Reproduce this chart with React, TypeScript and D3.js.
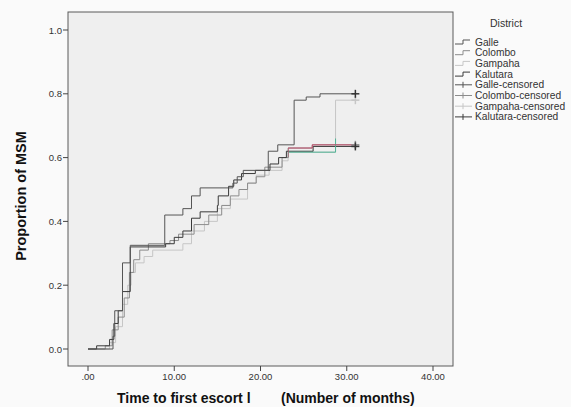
import React from 'react';
import * as d3 from 'd3';

// step data: [time in months, cumulative proportion]
const galle: [number, number][] = [
  [0, 0], [2.9, 0.04], [3.1, 0.12], [4.0, 0.27], [4.9, 0.325], [8.9, 0.42], [11.0, 0.44],
  [12.0, 0.48], [13.0, 0.505], [16.8, 0.52], [17.3, 0.54], [18.0, 0.56], [20.9, 0.62],
  [22.0, 0.64], [23.9, 0.78], [25.3, 0.79], [26.9, 0.8], [31.0, 0.8],
];
const colombo: [number, number][] = [
  [0, 0], [2.0, 0.01], [2.8, 0.06], [3.5, 0.1], [4.2, 0.16], [4.8, 0.24], [5.3, 0.28],
  [6.0, 0.31], [7.0, 0.33], [9.5, 0.34], [10.5, 0.36], [12.3, 0.39], [14.0, 0.42],
  [15.5, 0.45], [16.5, 0.48], [17.5, 0.5], [18.5, 0.52], [19.5, 0.54], [20.5, 0.57],
  [22.5, 0.6], [23.2, 0.63], [26.0, 0.64], [31.0, 0.64],
];
const gampaha: [number, number][] = [
  [0, 0], [2.5, 0.02], [3.2, 0.07], [4.0, 0.14], [4.6, 0.2], [5.0, 0.24], [5.5, 0.27],
  [6.5, 0.29], [7.5, 0.31], [11.0, 0.33], [12.0, 0.37], [13.5, 0.4], [15.0, 0.44],
  [16.5, 0.47], [18.5, 0.52], [19.5, 0.545], [21.0, 0.56], [22.5, 0.59], [23.2, 0.617],
  [28.7, 0.78], [31.0, 0.78],
];
const kalutara: [number, number][] = [
  [0, 0], [1.0, 0.01], [2.5, 0.03], [3.0, 0.08], [3.5, 0.12], [4.0, 0.18], [4.9, 0.32],
  [9.0, 0.33], [10.0, 0.35], [11.0, 0.37], [12.0, 0.41], [13.0, 0.43], [15.0, 0.45],
  [15.1, 0.48], [16.3, 0.51], [16.9, 0.53], [17.8, 0.55], [19.4, 0.56], [21.1, 0.58],
  [22.1, 0.6], [23.0, 0.62], [26.1, 0.635], [31.0, 0.635],
];

const legendLabels = [
  'Galle', 'Colombo', 'Gampaha', 'Kalutara',
  'Galle-censored', 'Colombo-censored', 'Gampaha-censored', 'Kalutara-censored',
];
const xTicks = [0, 10, 20, 30, 40];
const xTickLabels = ['.00', '10.00', '20.00', '30.00', '40.00'];
const yTicks = [0, 0.2, 0.4, 0.6, 0.8, 1.0];
const yTickLabels = ['0.0', '0.2', '0.4', '0.6', '0.8', '1.0'];

const series = [galle, colombo, gampaha, kalutara];
const colors = ['#555555', '#8c8c8c', '#c6c6c6', '#3a3a3a'];
const tailColors: (string | null)[] = [null, '#c2506c', '#52b596', null];
const tailStart = 23.2;
const tailRange = [0.6, 0.66];

const W = 571;
const H = 407;
const frame = { left: 68, right: 453, top: 12, bottom: 366 };
const font = '"Liberation Sans", Arial, sans-serif';

export default function App() {
  const x = d3.scaleLinear().domain([0, 40]).range([88, 433]);
  const y = d3.scaleLinear().domain([0, 1]).range([349, 30]);

  const line = d3
    .line<[number, number]>()
    .x((d) => x(d[0]))
    .y((d) => y(d[1]))
    .curve(d3.curveStepAfter);

  const drawOrder = [2, 1, 3, 0];
  const legendY = (i: number) => 42 + i * 10.7;

  return (
    <svg width={W} height={H} style={{ display: 'block', position: 'absolute', left: 0, top: 0 }}>
      <defs>
        <clipPath id="tail">
          <rect
            x={x(tailStart)}
            y={y(tailRange[1])}
            width={W}
            height={y(tailRange[0]) - y(tailRange[1])}
          />
        </clipPath>
      </defs>
      <rect width={W} height={H} fill="#fafafa" />
      <rect
        x={frame.left}
        y={frame.top}
        width={frame.right - frame.left}
        height={frame.bottom - frame.top}
        fill="#efefef"
        stroke="#5a5a5a"
        strokeWidth={1}
      />

      {/* y axis */}
      {yTicks.map((t, i) => (
        <g key={'y' + t}>
          <line x1={frame.left - 5} x2={frame.left} y1={y(t)} y2={y(t)} stroke="#444" />
          <text x={frame.left - 6} y={y(t) + 3.5} textAnchor="end" fontSize={9.5} fontFamily={font} fill="#333">
            {yTickLabels[i]}
          </text>
        </g>
      ))}
      {/* x axis */}
      {xTicks.map((t, i) => (
        <g key={'x' + t}>
          <line x1={x(t)} x2={x(t)} y1={frame.bottom} y2={frame.bottom + 5} stroke="#444" />
          <text x={x(t)} y={frame.bottom + 14} textAnchor="middle" fontSize={9.5} fontFamily={font} fill="#333">
            {xTickLabels[i]}
          </text>
        </g>
      ))}

      <text
        transform={`translate(26,196) rotate(-90)`}
        textAnchor="middle"
        fontSize={14.5}
        fontWeight="bold"
        fontFamily={font}
        fill="#111"
      >
        Proportion of MSM
      </text>
      <text x={117} y={403} fontSize={14} fontWeight="bold" fontFamily={font} fill="#111">
        Time to first escort l
      </text>
      <text x={281} y={403} fontSize={14} fontWeight="bold" fontFamily={font} fill="#111">
        (Number of months)
      </text>

      {/* curves */}
      {drawOrder.map((i) => (
        <path key={'c' + i} d={line(series[i]) || ''} fill="none" stroke={colors[i]} strokeWidth={1} />
      ))}
      {drawOrder.map((i) =>
        tailColors[i] ? (
          <path
            key={'t' + i}
            d={line(series[i]) || ''}
            fill="none"
            stroke={tailColors[i] as string}
            strokeWidth={1}
            clipPath="url(#tail)"
          />
        ) : null
      )}
      {/* censored marks */}
      {drawOrder.map((i) => {
        const last = series[i][series[i].length - 1];
        const cx = x(last[0]);
        const cy = y(last[1]);
        return (
          <g key={'m' + i} stroke={i === 0 || i === 3 ? '#333' : colors[i]} strokeWidth={1.5}>
            <line x1={cx - 4} x2={cx + 4} y1={cy} y2={cy} />
            <line x1={cx} x2={cx} y1={cy - 4} y2={cy + 4} />
          </g>
        );
      })}

      {/* legend */}
      <text x={490} y={27} fontSize={10.5} fontFamily={font} fill="#333">
        District
      </text>
      {legendLabels.map((lab, i) => {
        const ly = legendY(i);
        const c = colors[i % 4];
        return (
          <g key={'l' + lab}>
            {i < 4 ? (
              <path
                d={`M455,${ly + 2}H463V${ly - 2}H470`}
                fill="none"
                stroke={c}
                strokeWidth={1}
              />
            ) : (
              <g stroke={c} strokeWidth={1}>
                <line x1={455} x2={472} y1={ly} y2={ly} />
                <line x1={463} x2={463} y1={ly - 3} y2={ly + 3} />
              </g>
            )}
            <text x={475} y={ly + 3.5} fontSize={10.2} fontFamily={font} fill="#333">
              {lab}
            </text>
          </g>
        );
      })}
    </svg>
  );
}
